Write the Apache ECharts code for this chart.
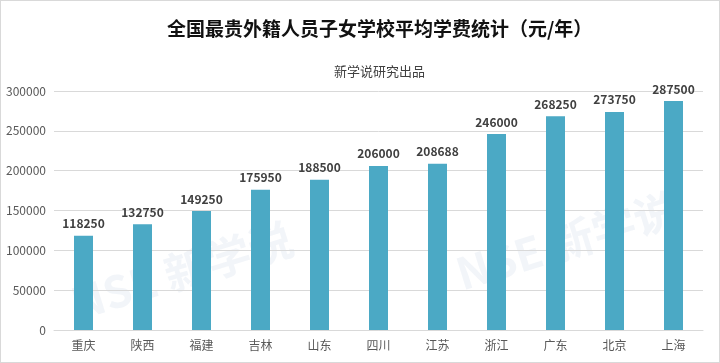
<!DOCTYPE html>
<html><head><meta charset="utf-8">
<script src="https://cdn.jsdelivr.net/npm/echarts@6/dist/echarts.min.js"></script>
<style>html,body{margin:0;padding:0;background:#fff}#c{width:720px;height:363px;box-sizing:border-box;border:1px solid #d9d9d9}</style>
</head><body><div id="c"></div>
<script>
const categories = ['重庆','陕西','福建','吉林','山东','四川','江苏','浙江','广东','北京','上海'];
const fees = [118250,132750,149250,175950,188500,206000,208688,246000,268250,273750,287500];
const titleText = '全国最贵外籍人员子女学校平均学费统计（元/年）';
const subtitleText = '新学说研究出品';
const font = '"Noto Sans CJK SC", "Microsoft YaHei", sans-serif';
const chart = echarts.init(document.getElementById('c'));
chart.setOption({
  animation:false,
  backgroundColor:'#fff',
  title:[
    {text:titleText,left:161,top:13,textStyle:{fontFamily:font,fontSize:19,fontWeight:'bold',color:'#111'}},
    {text:subtitleText,left:328,top:59,textStyle:{fontFamily:font,fontSize:13,fontWeight:'normal',color:'#404040'}}
  ],
  graphic:[
    {type:'text',left:65,top:215,rotation:0.3,style:{text:'NSE 新学说',fontSize:44,fontWeight:'bold',fontFamily:font,fill:'rgba(190,205,225,0.2)'}},
    {type:'text',left:450,top:185,rotation:0.3,style:{text:'NSE 新学说',fontSize:44,fontWeight:'bold',fontFamily:font,fill:'rgba(190,205,225,0.2)'}}
  ],
  grid:{left:53,right:16,top:90,bottom:32,containLabel:false},
  xAxis:{type:'category',data:categories,
    axisLine:{lineStyle:{color:'#d9d9d9'}},axisTick:{show:false},
    axisLabel:{color:'#595959',fontSize:12,fontFamily:font,margin:9}},
  yAxis:{type:'value',min:0,max:300000,interval:50000,
    axisLine:{show:false},axisTick:{show:false},
    splitLine:{lineStyle:{color:'#d9d9d9'}},
    axisLabel:{color:'#595959',fontSize:12,fontFamily:font,margin:8,formatter:v=>String(v)}},
  series:[{type:'bar',data:fees,barWidth:19,itemStyle:{color:'#4BA9C5'},
    label:{show:true,position:'top',distance:6,color:'#404040',fontSize:12,fontWeight:'bold',fontFamily:font}}]
});
</script></body></html>
